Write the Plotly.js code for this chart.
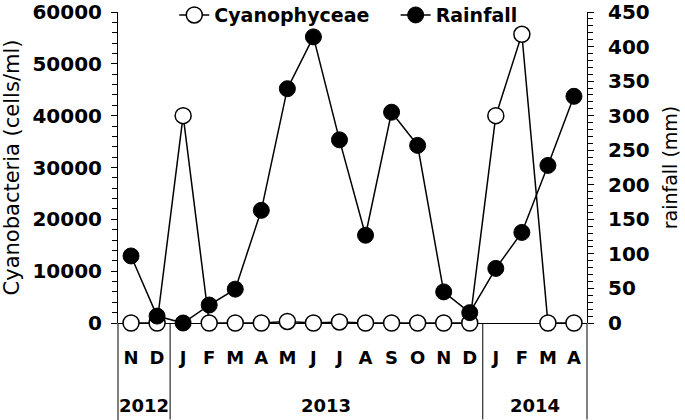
<!DOCTYPE html>
<html>
<head>
<meta charset="utf-8">
<script src="https://cdn.plot.ly/plotly-3.0.1.min.js"></script>
<style>
  html, body { margin: 0; padding: 0; background: #fff; }
  #chart { width: 685px; height: 420px; }
</style>
</head>
<body>
<div id="chart"></div>
<script>
// months from Nov 2012 to Apr 2014
const months = ['N', 'D', 'J', 'F', 'M', 'A', 'M', 'J', 'J', 'A', 'S', 'O', 'N', 'D', 'J', 'F', 'M', 'A'];
const years = ['2012', '2013', '2014'];
const yearCenters = [0.5, 7.5, 15.5];
const yearBreaks = [1.5, 13.5];

// cells/ml
const cyanophyceae = [0, 0, 40000, 0, 0, 0, 300, 0, 200, 0, 0, 0, 0, 0, 40000, 55700, 0, 0];
// mm
const rainfall = [97, 10, 0, 26, 49, 163, 339, 414, 265, 127, 305, 257, 45, 15, 79, 131, 228, 328];

const xIdx = months.map((m, i) => i);
const FONT = 'DejaVu Sans';

const rainTrace = {
    x: xIdx,
    y: rainfall,
    yaxis: 'y2',
    type: 'scatter',
    mode: 'lines+markers',
    name: 'Rainfall',
    legend: 'legend2',
    line: { color: '#000', width: 1.5 },
    marker: { symbol: 'circle', size: 16, color: '#000', line: { color: '#000', width: 1 } },
    cliponaxis: false
};

const cyanoTrace = {
    x: xIdx,
    y: cyanophyceae,
    type: 'scatter',
    mode: 'lines+markers',
    name: 'Cyanophyceae',
    legend: 'legend',
    line: { color: '#000', width: 1.5 },
    marker: { symbol: 'circle', size: 16, color: '#fff', line: { color: '#000', width: 1.5 } },
    cliponaxis: false
};

// separators between years below the axis
let shapes = yearBreaks.map(b => ({
    type: 'line', xref: 'x', yref: 'paper',
    x0: b, x1: b, y0: 0, y1: -0.31,
    line: { color: '#000', width: 1 }
}));
shapes.push({ type: 'line', xref: 'paper', yref: 'paper', x0: 0, x1: 0, y0: 0, y1: -0.32, line: { color: '#000', width: 1 } });
shapes.push({ type: 'line', xref: 'paper', yref: 'paper', x0: 1, x1: 1, y0: 0, y1: -0.31, line: { color: '#000', width: 1 } });

const annotations = years.map((yr, i) => ({
    text: yr, xref: 'x', yref: 'paper',
    x: yearCenters[i], y: -0.264,
    yanchor: 'middle',
    showarrow: false,
    font: { family: FONT, size: 18, color: '#000', weight: 'bold' }
}));

const legendFont = { family: FONT, size: 19, color: '#000', weight: 'bold' };

const layout = {
    width: 685,
    height: 420,
    margin: { l: 118, r: 98, t: 12, b: 97, autoexpand: false },
    paper_bgcolor: '#fff',
    plot_bgcolor: 'rgba(0,0,0,0)',
    showlegend: true,
    legend: {
        orientation: 'h',
        x: 0.12, y: 0.99, xanchor: 'left', yanchor: 'middle',
        bgcolor: 'rgba(0,0,0,0)',
        font: legendFont
    },
    legend2: {
        orientation: 'h',
        x: 0.592, y: 0.99, xanchor: 'left', yanchor: 'middle',
        bgcolor: 'rgba(0,0,0,0)',
        font: legendFont
    },
    xaxis: {
        range: [-0.5, 17.5],
        tickvals: xIdx,
        ticktext: months,
        ticks: '',
        showgrid: false,
        zeroline: false,
        showline: false,
        ticklabelstandoff: 22,
        tickfont: { family: FONT, size: 18, color: '#000', weight: 'bold' },
        fixedrange: true
    },
    yaxis: {
        range: [0, 60000],
        dtick: 10000,
        tickformat: 'd',
        ticks: 'outside',
        ticklen: 6,
        tickcolor: '#000',
        minor: { dtick: 2000, ticks: 'outside', ticklen: 5, tickcolor: '#000' },
        showline: true,
        linecolor: '#000',
        linewidth: 1,
        showgrid: false,
        zeroline: true,
        zerolinecolor: '#000',
        zerolinewidth: 1,
        ticklabelstandoff: 5,
        ticklabeloverflow: 'allow',
        tickfont: { family: FONT, size: 20, color: '#000', weight: 'bold' },
        title: { text: 'Cyanobacteria (cells/ml)', standoff: 12, font: { family: FONT, size: 21, color: '#000' } }
    },
    yaxis2: {
        overlaying: 'y',
        side: 'right',
        range: [0, 450],
        dtick: 50,
        ticks: 'outside',
        ticklen: 6,
        tickcolor: '#000',
        minor: { dtick: 10, ticks: 'outside', ticklen: 5, tickcolor: '#000' },
        showline: true,
        linecolor: '#000',
        linewidth: 1,
        showgrid: false,
        zeroline: false,
        ticklabelstandoff: 10,
        ticklabeloverflow: 'allow',
        tickfont: { family: FONT, size: 20, color: '#000', weight: 'bold' },
        title: { text: 'rainfall (mm)', standoff: 14, font: { family: FONT, size: 19, color: '#000' } }
    },
    shapes: shapes,
    annotations: annotations
};

Plotly.newPlot('chart', [rainTrace, cyanoTrace], layout, { displayModeBar: false, staticPlot: true });
</script>
</body>
</html>
